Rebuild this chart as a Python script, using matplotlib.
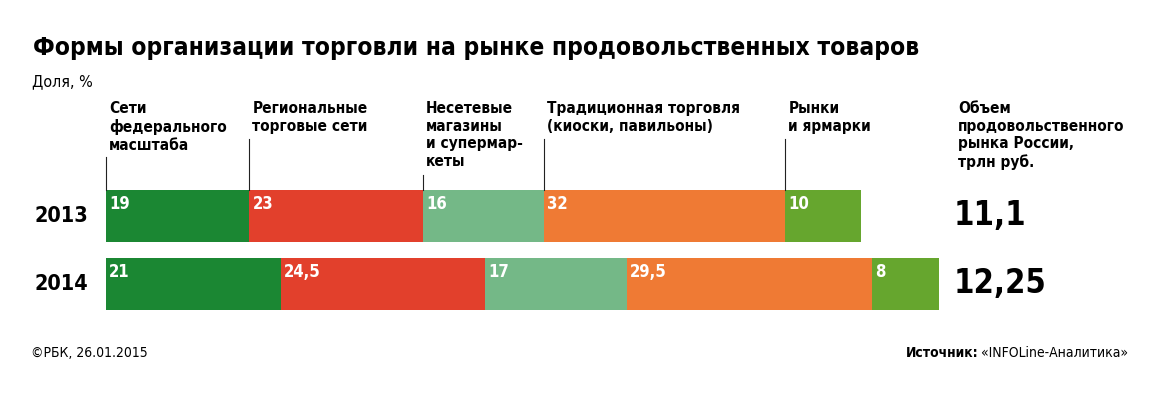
import numpy as np
import matplotlib
matplotlib.use('Agg')
import matplotlib.pyplot as plt
import matplotlib.transforms as mtransforms

plt.rcParams['font.family'] = ['DejaVu Sans']
plt.rcParams['font.stretch'] = 'condensed'

years = ['2013', '2014']
volumes = [11.1, 12.25]  # трлн руб.
categories = ['Сети\nфедерального\nмасштаба',
              'Региональные\nторговые сети',
              'Несетевые\nмагазины\nи супермар-\nкеты',
              'Традиционная торговля\n(киоски, павильоны)',
              'Рынки\nи ярмарки']
shares_2013 = [19, 23, 16, 32, 10]
shares_2014 = [21, 24.5, 17, 29.5, 8]
colors = ['#1b8733', '#e2402c', '#74b887', '#ef7a34', '#66a62e']

W, H = 1169, 395
fig = plt.figure(figsize=(W / 100, H / 100), dpi=100)


def fx(px):
    return px / W


def fy(py):
    return 1 - py / H


def fmt(v):
    s = ('%g' % v).replace('.', ',')
    return s


ax = fig.add_axes([fx(106), fy(310), fx(939 - 106), (310 - 190) / H])
ax.set_xlim(0, max(volumes))
bar_h = 52 / 68
ax.set_ylim(1 + bar_h / 2, -bar_h / 2)
ax.axis('off')

all_shares = [shares_2013, shares_2014]
for i, (shares, vol) in enumerate(zip(all_shares, volumes)):
    widths = np.array(shares) / 100 * vol
    lefts = np.concatenate([[0], np.cumsum(widths)[:-1]])
    ax.barh(i, widths, left=lefts, height=bar_h, color=colors, edgecolor='none')
    for l, s in zip(lefts, shares):
        ax.annotate(fmt(s), xy=(l, i - bar_h / 2), xytext=(3, -5), textcoords='offset pixels',
                    ha='left', va='top', color='white', fontsize=12, fontweight='bold')
    # year and volume
    ax.text(fx(34), i, years[i], transform=mtransforms.blended_transform_factory(fig.transFigure, ax.transData),
            ha='left', va='center', fontsize=15.5, fontweight='bold')
    ax.text(fx(954), i, fmt(vol), transform=mtransforms.blended_transform_factory(fig.transFigure, ax.transData),
            ha='left', va='center', fontsize=23.5, fontweight='bold')

# category labels with leader lines, anchored to the 2013 segments
w13 = np.array(shares_2013) / 100 * volumes[0]
lefts13 = np.concatenate([[0], np.cumsum(w13)[:-1]])
blend = mtransforms.blended_transform_factory(ax.transData, fig.transFigure)
shift = mtransforms.ScaledTranslation(3 / 100, 0, fig.dpi_scale_trans)
for l, cat in zip(lefts13, categories):
    n = cat.count('\n') + 1
    ax.text(l, fy(101), cat, transform=blend + shift, ha='left', va='top',
            fontsize=11.1, fontweight='bold', linespacing=1.22)
    ax.plot([l, l], [fy(103 + 18 * n), fy(190)], transform=blend, color='#222222',
            lw=0.8, clip_on=False)

fig.text(fx(958), fy(101), 'Объем\nпродовольственного\nрынка России,\nтрлн руб.',
         ha='left', va='top', fontsize=11.1, fontweight='bold', linespacing=1.22)

fig.text(fx(33), fy(55), 'Формы организации торговли на рынке продовольственных товаров',
         ha='left', va='baseline', fontsize=17.6, fontweight='bold')
fig.text(fx(32), fy(86), 'Доля, %', ha='left', va='baseline', fontsize=11.5)

fig.text(fx(31), fy(357), '©РБК, 26.01.2015', ha='left', va='baseline', fontsize=10)
src = fig.text(fx(1128), fy(357), '«INFOLine-Аналитика»', ha='right', va='baseline', fontsize=10)
fig.canvas.draw()
bb = src.get_window_extent()
fig.text(bb.x0 / W - fx(2), fy(357), 'Источник:', ha='right', va='baseline', fontsize=10,
         fontweight='bold')

fig.savefig('out.png', dpi=100)
